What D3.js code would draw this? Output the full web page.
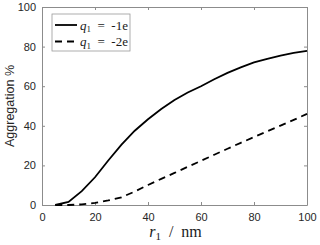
<!DOCTYPE html>
<html>
<head>
<meta charset="utf-8">
<script src="https://cdn.jsdelivr.net/npm/d3@7"></script>
<style>
  body { margin: 0; background: #fff; }
  .tick text { font-family: "Liberation Sans", Arial, sans-serif; font-size: 11px; fill: #262626; }
</style>
</head>
<body>
<div id="chart"></div>
<script>
// Data
const radii = [5, 10, 15, 20, 25, 30, 35, 40, 45, 50, 55, 60, 65, 70, 75, 80, 85, 90, 95, 100];
const aggOneE = [0, 1.6, 7, 14, 22.5, 30.5, 37.5, 43.3, 48.5, 53, 56.8, 60, 63.5, 66.7, 69.5, 72, 73.8, 75.5, 76.8, 77.8];
const aggTwoE = [0, 0, 0.3, 1.1, 2.3, 3.9, 6.8, 10.1, 13.2, 16.2, 19.3, 22.3, 25.4, 28.4, 31.4, 34.3, 37.2, 40.1, 43, 46];
const xTicks = [0, 20, 40, 60, 80, 100];
const yTicks = [0, 20, 40, 60, 80, 100];
const seriesNames = ['-1e', '-2e'];

const element = document.getElementById('chart');

const margin = {top: 7, right: 13, bottom: 40, left: 42},
    width = 320 - margin.left - margin.right,
    height = 245 - margin.top - margin.bottom;

const svg = d3.select(element)
    .append('svg')
    .attr('width', 320)
    .attr('height', 245)
    .append('g')
    .attr('transform', `translate(${margin.left}, ${margin.top})`);

const xScale = d3.scaleLinear().domain([0, 100]).range([0, width]);
const yScale = d3.scaleLinear().domain([0, 100]).range([height, 0]);

const axisColor = '#8c8c8c';

// Axes, ticks pointing inward, box on all four sides
const styleAxis = g => {
    g.select('.domain').attr('stroke', axisColor);
    g.selectAll('.tick line').attr('stroke', axisColor);
};

svg.append('g')
    .attr('transform', `translate(0, ${height})`)
    .call(d3.axisBottom(xScale).tickValues(xTicks).tickSizeInner(-3).tickSizeOuter(0).tickPadding(8))
    .call(styleAxis);

svg.append('g')
    .call(d3.axisLeft(yScale).tickValues(yTicks).tickSizeInner(-3).tickSizeOuter(0).tickPadding(6))
    .call(styleAxis);

svg.append('g')
    .call(d3.axisTop(xScale).tickValues(xTicks).tickSizeInner(-3).tickSizeOuter(0).tickFormat(''))
    .call(styleAxis);

svg.append('g')
    .attr('transform', `translate(${width}, 0)`)
    .call(d3.axisRight(yScale).tickValues(yTicks).tickSizeInner(-3).tickSizeOuter(0).tickFormat(''))
    .call(styleAxis);

// Lines
const line = d3.line()
    .x((d, i) => xScale(radii[i]))
    .y(d => yScale(d));

svg.append('path')
    .attr('d', line(aggOneE))
    .attr('fill', 'none')
    .attr('stroke', '#000')
    .attr('stroke-width', 1.8);

svg.append('path')
    .attr('d', line(aggTwoE))
    .attr('fill', 'none')
    .attr('stroke', '#000')
    .attr('stroke-width', 1.8)
    .attr('stroke-dasharray', '7 5');

// Legend
const legend = svg.append('g').attr('transform', 'translate(10, 7)');
legend.append('rect')
    .attr('width', 78).attr('height', 37)
    .attr('fill', '#fff')
    .attr('stroke', '#999')
    .attr('stroke-width', 0.8);

seriesNames.forEach((name, i) => {
    const y = 11 + i * 16.5;
    legend.append('line')
        .attr('x1', 3).attr('x2', 25)
        .attr('y1', y).attr('y2', y)
        .attr('stroke', '#000')
        .attr('stroke-width', 1.8)
        .attr('stroke-dasharray', i === 1 ? '7 5' : null);
    const t = legend.append('text')
        .attr('x', 28).attr('y', y + 4.5)
        .attr('font-family', '"Liberation Serif", "Times New Roman", serif')
        .attr('font-size', 13)
        .attr('fill', '#1a1a1a')
        .attr('xml:space', 'preserve');
    t.append('tspan').attr('font-style', 'italic').text('q');
    t.append('tspan').attr('font-size', 9).attr('dy', 2.5).text('1');
    t.append('tspan').attr('dy', -2.5).text('  =  ' + name);
});

// Axis labels
const xLabel = svg.append('text')
    .attr('x', width / 2 + 1)
    .attr('y', height + 32)
    .attr('text-anchor', 'middle')
    .attr('font-family', '"Liberation Serif", "Times New Roman", serif')
    .attr('font-size', 16)
    .attr('fill', '#1a1a1a')
    .attr('xml:space', 'preserve');
xLabel.append('tspan').attr('font-style', 'italic').text('r');
xLabel.append('tspan').attr('font-size', 11).attr('dy', 3).text('1');
xLabel.append('tspan').attr('dy', -3).text('  /  nm');

svg.append('text')
    .attr('transform', `translate(${-margin.left + 14}, ${height / 2}) rotate(-90)`)
    .attr('text-anchor', 'middle')
    .attr('font-family', '"Liberation Sans", Arial, sans-serif')
    .attr('font-size', 12.5)
    .attr('fill', '#262626')
    .text('Aggregation %');
</script>
</body>
</html>
